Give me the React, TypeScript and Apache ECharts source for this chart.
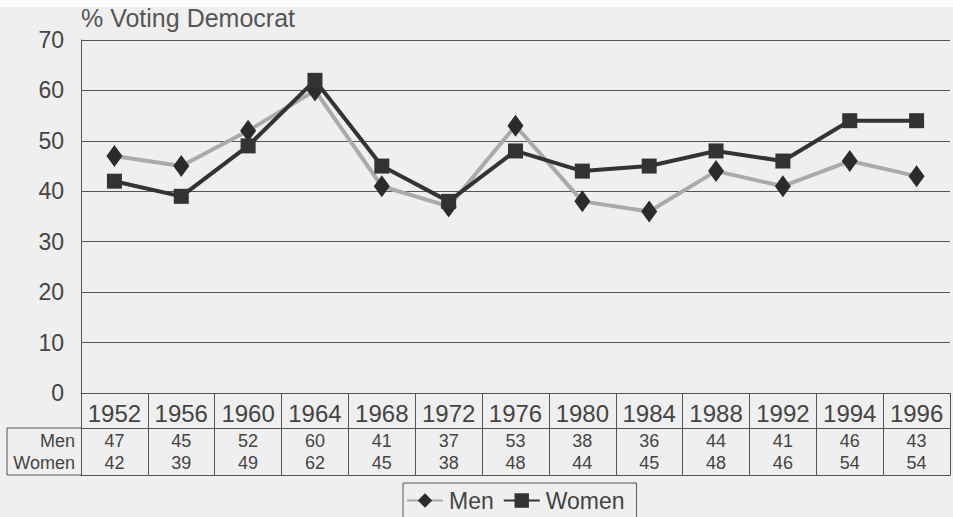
import React, { useEffect, useRef } from "react";
import * as echarts from "echarts";

const years = ["1952", "1956", "1960", "1964", "1968", "1972", "1976", "1980", "1984", "1988", "1992", "1994", "1996"];
const men = [47, 45, 52, 60, 41, 37, 53, 38, 36, 44, 41, 46, 43];
const women = [42, 39, 49, 62, 45, 38, 48, 44, 45, 48, 46, 54, 54];
const yTicks = { min: 0, max: 70, interval: 10 };

const FONT = "'Liberation Sans', Arial, Helvetica, sans-serif";
const TEXT = "#444";
const LINE = "#555";

export default function App() {
  const ref = useRef<HTMLDivElement>(null);
  useEffect(() => {
    if (!ref.current) return;
    const chart = echarts.init(ref.current, undefined, { renderer: "svg" });
    const baseX = {
      type: "category" as const,
      gridIndex: 0,
      data: years,
      position: "bottom" as const,
      boundaryGap: true,
      splitLine: { show: false },
    };
    chart.setOption({
      animation: false,
      backgroundColor: "#efefef",
      textStyle: { fontFamily: FONT },
      grid: { left: 81, right: 3, top: 40, bottom: 124, containLabel: false },
      title: {
        text: "% Voting Democrat",
        left: 81,
        top: 5,
        padding: 0,
        textStyle: { fontSize: 25, fontWeight: "normal", color: "#555", fontFamily: FONT },
      },
      legend: {
        left: 403,
        top: 483,
        padding: [6, 12, 12, 3],
        itemGap: 9,
        itemWidth: 36,
        itemHeight: 18,
        borderColor: LINE,
        borderWidth: 1,
        textStyle: { fontSize: 23, color: TEXT, fontFamily: FONT, padding: [0, 0, 0, 1] },
        data: ["Men", "Women"],
      },
      graphic: [
        { type: "rect", left: 0, top: 0, shape: { width: 953, height: 7 }, style: { fill: "#fbfbfb" }, silent: true },
        { type: "line", shape: { x1: 7, y1: 428, x2: 81, y2: 428 }, style: { stroke: LINE, lineWidth: 1 } },
        { type: "line", shape: { x1: 7, y1: 475, x2: 81, y2: 475 }, style: { stroke: LINE, lineWidth: 1 } },
        { type: "line", shape: { x1: 7, y1: 428, x2: 7, y2: 475 }, style: { stroke: LINE, lineWidth: 1 } },
        { type: "text", x: 75, y: 441, style: { text: "Men", fontSize: 18, fill: TEXT, fontFamily: FONT, align: "right", verticalAlign: "middle" } },
        { type: "text", x: 75, y: 463, style: { text: "Women", fontSize: 18, fill: TEXT, fontFamily: FONT, align: "right", verticalAlign: "middle" } },
      ],
      xAxis: [
        {
          ...baseX,
          offset: 0,
          axisLine: { show: true, lineStyle: { color: LINE, width: 1 } },
          axisTick: { show: true, interval: 0, length: 35, lineStyle: { color: LINE, width: 1 } },
          axisLabel: { interval: 0, fontSize: 24, color: TEXT, margin: 8, fontFamily: FONT, lineHeight: 24 },
        },
        {
          ...baseX,
          offset: 35,
          axisLine: { show: true, lineStyle: { color: LINE, width: 1 } },
          axisTick: { show: true, interval: 0, length: 47, lineStyle: { color: LINE, width: 1 } },
          axisLabel: {
            interval: 0, fontSize: 18, color: TEXT, margin: 4, fontFamily: FONT, lineHeight: 18,
            formatter: (_v: string, i: number) => String(men[i]),
          },
        },
        {
          ...baseX,
          offset: 58,
          axisLine: { show: false },
          axisTick: { show: false },
          axisLabel: {
            interval: 0, fontSize: 18, color: TEXT, margin: 3, fontFamily: FONT, lineHeight: 18,
            formatter: (_v: string, i: number) => String(women[i]),
          },
        },
        {
          ...baseX,
          offset: 82,
          axisLine: { show: true, lineStyle: { color: LINE, width: 1 } },
          axisTick: { show: false },
          axisLabel: { show: false },
        },
      ],
      yAxis: {
        type: "value",
        min: yTicks.min,
        max: yTicks.max,
        interval: yTicks.interval,
        axisLine: { show: true, lineStyle: { color: LINE, width: 1 } },
        axisTick: { show: false },
        splitLine: { show: true, lineStyle: { color: LINE, width: 1 } },
        axisLabel: { fontSize: 23, color: TEXT, margin: 17, fontFamily: FONT },
      },
      series: [
        {
          name: "Men",
          type: "line",
          xAxisIndex: 0,
          data: men,
          symbol: "diamond",
          symbolSize: [16, 22],
          lineStyle: { color: "#aaaaaa", width: 4 },
          itemStyle: { color: "#2b2b2b", borderWidth: 0 },
          z: 3,
        },
        {
          name: "Women",
          type: "line",
          xAxisIndex: 0,
          data: women,
          symbol: "rect",
          symbolSize: 15,
          lineStyle: { color: "#333333", width: 4 },
          itemStyle: { color: "#333333", borderWidth: 0 },
          z: 4,
        },
      ],
    });
    return () => chart.dispose();
  }, []);
  return (
    <div
      ref={ref}
      style={{ position: "fixed", left: 0, top: 0, width: 953, height: 517 }}
    />
  );
}
